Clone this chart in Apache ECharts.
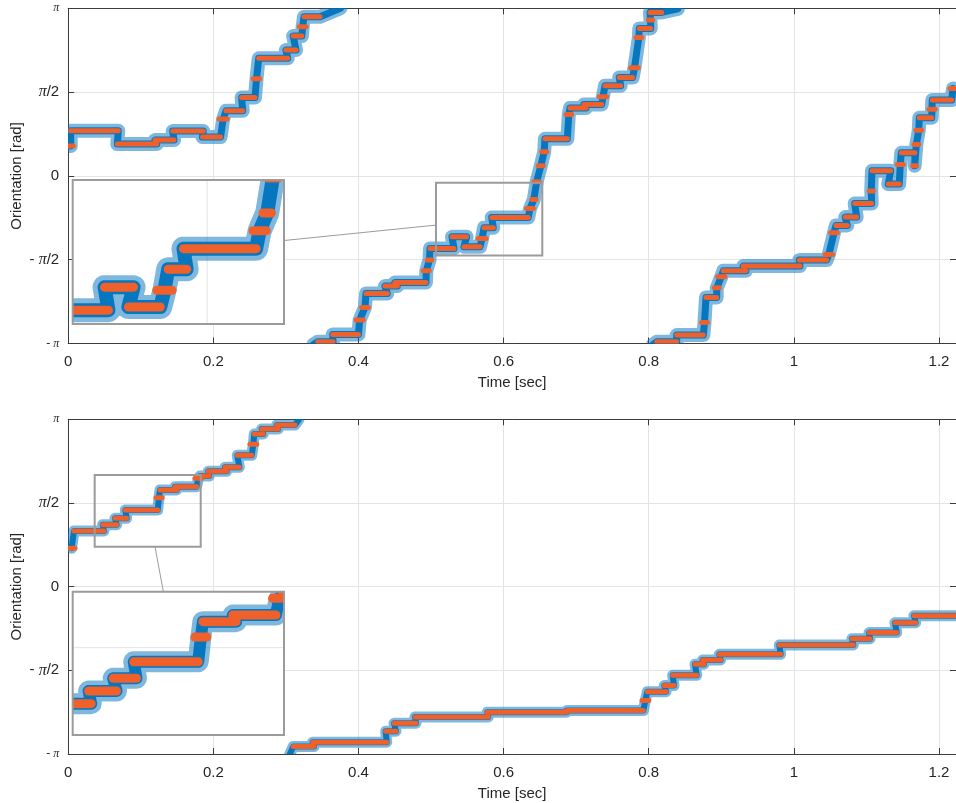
<!DOCTYPE html>
<html>
<head>
<meta charset="utf-8">
<script src="https://cdn.jsdelivr.net/npm/echarts/dist/echarts.min.js"></script>
<style>
  html, body { margin: 0; background: #fff; }
  #chart { width: 956px; height: 803px; }
</style>
</head>
<body>
<div id="chart"></div>
<script>
const PI = Math.PI;
const X_MAX = 1.2234;

const xTickLabels = ['0', '0.2', '0.4', '0.6', '0.8', '1', '1.2'];
// -π, -π/2, 0, π/2, π
const yTickLabels = ['{s|- π}', '{n|- }{p|π}{n|/2}', '{n|0}', '{p|π}{n|/2}', '{s|π}'];

// quantised orientation steps [tStart, tEnd, rad], upper plot, split where the angle wraps
const topStepsA = [
  [0, 0.007, 0.56], [0.0034, 0.069, 0.845], [0.0677, 0.122, 0.596], [0.1196, 0.1458, 0.671],
  [0.144, 0.186, 0.840], [0.185, 0.210, 0.727], [0.208, 0.219, 1.065], [0.2175, 0.2405, 1.220],
  [0.239, 0.2574, 1.471], [0.255, 0.264, 1.820], [0.2625, 0.3025, 2.203], [0.300, 0.314, 2.358],
  [0.310, 0.322, 2.621], [0.3185, 0.3277, 2.795], [0.325, 0.347, 2.982]
];
const topStepsB = [
  [0.344, 0.365, -3.11], [0.3645, 0.400, -2.971], [0.3966, 0.4066, -2.703], [0.4044, 0.4135, -2.465],
  [0.4104, 0.4397, -2.203], [0.4365, 0.4535, -2.066], [0.4503, 0.493, -1.996], [0.4893, 0.4976, -1.779],
  [0.4948, 0.5009, -1.578], [0.4986, 0.5316, -1.359], [0.5289, 0.549, -1.142], [0.5454, 0.5675, -1.329],
  [0.5651, 0.5757, -1.172], [0.573, 0.5858, -0.973], [0.5836, 0.634, -0.778], [0.6318, 0.641, -0.609],
  [0.6387, 0.6446, -0.441], [0.6419, 0.6492, -0.111], [0.6478, 0.6547, 0.189], [0.6525, 0.6594, 0.452],
  [0.657, 0.6878, 0.695], [0.686, 0.6938, 1.153], [0.6915, 0.7135, 1.271], [0.7108, 0.7352, 1.340],
  [0.7318, 0.742, 1.483], [0.7397, 0.7613, 1.689], [0.7594, 0.7779, 1.846], [0.7751, 0.7856, 2.026],
  [0.7824, 0.7903, 2.596], [0.787, 0.8027, 2.765], [0.7994, 0.8054, 2.920], [0.8017, 0.8178, 3.065]
];
const topStepsC = [
  [0.811, 0.8385, -3.110], [0.8385, 0.8752, -2.984], [0.873, 0.8807, -2.746], [0.8789, 0.8936, -2.278],
  [0.8903, 0.8972, -2.098], [0.895, 0.905, -1.891], [0.9027, 0.934, -1.779], [0.930, 1.0084, -1.691],
  [1.0074, 1.0452, -1.578], [1.0429, 1.0535, -1.471], [1.0507, 1.0598, -1.067], [1.058, 1.0736, -0.928],
  [1.0708, 1.0865, -0.772], [1.0838, 1.1072, -0.516], [1.1039, 1.1094, -0.285], [1.1076, 1.1334, 0.096],
  [1.130, 1.1452, -0.154], [1.1425, 1.1508, 0.216], [1.148, 1.1669, 0.433], [1.1637, 1.1692, 0.189],
  [1.1655, 1.172, 0.590], [1.1682, 1.1761, 0.858], [1.1728, 1.1899, 1.089], [1.1862, 1.1944, 1.247],
  [1.1907, 1.2175, 1.421], [1.2151, 1.2234, 1.640]
];
// where the raw measurement runs off the ±π edges
const topWrapEnds = [[0.375, 3.14], [0.338, -3.16], [0.840, 3.13], [0.806, -3.16]];

// lower plot
const botStepsA = [
  [0, 0.0094, 0.721], [0.008, 0.0493, 1.045], [0.0475, 0.0668, 1.164], [0.0645, 0.0806, 1.284],
  [0.0787, 0.1233, 1.439], [0.121, 0.1293, 1.670], [0.1265, 0.1495, 1.815], [0.1472, 0.177, 1.877],
  [0.1747, 0.184, 2.034], [0.1816, 0.1944, 2.077], [0.193, 0.2184, 2.166], [0.216, 0.2358, 2.241],
  [0.233, 0.2529, 2.466], [0.2505, 0.2598, 2.672], [0.2564, 0.2688, 2.866], [0.2666, 0.2895, 2.960],
  [0.2873, 0.3125, 3.035]
];
const botStepsB = [
  [0.310, 0.3387, -3.003], [0.3369, 0.4389, -2.920], [0.4375, 0.4517, -2.714], [0.449, 0.4793, -2.564],
  [0.4779, 0.5789, -2.445], [0.5775, 0.6869, -2.357], [0.6869, 0.7925, -2.327], [0.7907, 0.800, -2.139],
  [0.798, 0.8238, -1.971], [0.8214, 0.8348, -1.858], [0.833, 0.8661, -1.663], [0.8637, 0.8761, -1.456],
  [0.8743, 0.8991, -1.376], [0.8972, 0.9818, -1.269], [0.9799, 1.0819, -1.094], [1.080, 1.1049, -0.976],
  [1.1035, 1.1417, -0.863], [1.1393, 1.1678, -0.676], [1.1655, 1.2234, -0.544]
];
const botWrapEnds = [[0.318, 3.14], [0.305, -3.16]];

// zoom windows [tMin, tMax, radMin, radMax]
const topZoom = [0.5068, 0.6533, -1.490, -0.129];
const botZoom = [0.0365, 0.1826, 0.751, 2.096];
// connector ends: [inset point], [main point]
const topLink = [[0.6533, -0.701], [0.5068, -0.922]];
const botLink = [[0.0992, 2.096], [0.1196, 0.751]];

const BLUE = '#0072BD';
const ORANGE = '#F0602A';
const FRAME = '#9b9b9b';
const AX = '#3c3c3c';
const FONT = 'Liberation Sans, Arial, Helvetica, sans-serif';

// raw measurement path: follows the plateaus, short steps only touch it once
function trace(head, steps, tail) {
  var pts = [];
  if (head) pts.push(head);
  steps.forEach(function (s) {
    if (s[1] - s[0] < 0.012) pts.push([(s[0] + s[1]) / 2, s[2]]);
    else pts.push([s[0], s[2]], [s[1], s[2]]);
  });
  if (tail) pts.push(tail);
  return pts;
}

const topTraces = [
  trace(null, topStepsA, topWrapEnds[0]),
  trace(topWrapEnds[1], topStepsB, topWrapEnds[2]),
  trace(topWrapEnds[3], topStepsC, null)
];
const botTraces = [
  trace(null, botStepsA, botWrapEnds[0]),
  trace(botWrapEnds[1], botStepsB, null)
];
const topSteps = topStepsA.concat(topStepsB, topStepsC);
const botSteps = botStepsA.concat(botStepsB);

function xLabel(v) {
  var k = Math.round(v / 0.2);
  return Math.abs(v - k * 0.2) < 1e-6 ? xTickLabels[k] : '';
}
function yLabel(v) {
  var k = Math.round(v / (PI / 2));
  return yTickLabels[k + 2] || '';
}

function frameAxis(extra) {
  return Object.assign({
    type: 'value',
    axisLine: { show: true, onZero: false, lineStyle: { color: AX, width: 1 } },
    axisTick: { inside: true, length: 6, lineStyle: { color: AX } },
    axisLabel: { show: false }, splitLine: { show: false }
  }, extra);
}

function mainAxes(g) {
  var xs = [frameAxis({
    gridIndex: g, min: 0, max: X_MAX, interval: 0.2, position: 'bottom',
    axisLabel: { color: '#262626', fontSize: 15, fontFamily: FONT, margin: 11, formatter: xLabel },
    splitLine: { show: true, lineStyle: { color: '#e4e4e4' } },
    name: 'Time [sec]', nameLocation: 'middle', nameGap: 32,
    nameTextStyle: { color: '#262626', fontSize: 15, fontFamily: FONT }
  }), frameAxis({ gridIndex: g, min: 0, max: X_MAX, interval: 0.2, position: 'top' })];
  var ys = [frameAxis({
    gridIndex: g, min: -PI, max: PI, interval: PI / 2, position: 'left',
    axisLabel: {
      margin: 9, formatter: yLabel, color: '#262626',
      rich: {
        n: { fontSize: 15, fontFamily: FONT, color: '#262626' },
        p: { fontSize: 16, fontFamily: 'Liberation Serif, serif', fontStyle: 'italic', color: '#262626' },
        s: { fontSize: 12, fontFamily: 'Liberation Serif, serif', fontStyle: 'italic', color: '#262626' }
      }
    },
    splitLine: { show: true, lineStyle: { color: '#e4e4e4' } },
    name: 'Orientation [rad]', nameLocation: 'middle', nameGap: 44, nameMoveOverlap: false,
    nameTextStyle: { color: '#262626', fontSize: 15, fontFamily: FONT }
  }), frameAxis({ gridIndex: g, min: -PI, max: PI, interval: PI / 2, position: 'right' })];
  return { xs: xs, ys: ys };
}

function insetAxes(g, z) {
  return {
    x: { gridIndex: g, type: 'value', min: z[0], max: z[1], show: false, splitLine: { show: false } },
    y: { gridIndex: g, type: 'value', min: z[2], max: z[3], show: false, splitLine: { show: false } }
  };
}

function blueLayer(traces, xi, yi, width, opacity, z) {
  return {
    type: 'custom', xAxisIndex: xi, yAxisIndex: yi, clip: true, silent: true, z: z,
    data: traces.map(function (t) { return t[0]; }),
    encode: { x: 0, y: 1 },
    renderItem: function (params, api) {
      var pts = traces[params.dataIndex].map(function (p) { return api.coord(p); });
      return { type: 'polyline', shape: { points: pts },
        style: { stroke: BLUE, fill: 'none', lineWidth: width, opacity: opacity, lineCap: 'round', lineJoin: 'round' } };
    }
  };
}

function blueSeries(traces, xi, yi, core, halo, zBase) {
  return [blueLayer(traces, xi, yi, halo, 0.5, zBase), blueLayer(traces, xi, yi, core, 0.95, zBase + 1)];
}

function orangeSeries(steps, xi, yi, w, z) {
  return {
    type: 'custom', xAxisIndex: xi, yAxisIndex: yi, data: steps, clip: true, silent: true, z: z,
    encode: { x: [0, 1], y: 2 },
    renderItem: function (params, api) {
      var a = api.coord([api.value(0), api.value(2)]);
      var b = api.coord([api.value(1), api.value(2)]);
      return { type: 'line', shape: { x1: a[0], y1: a[1], x2: b[0], y2: b[1] },
        style: { stroke: ORANGE, lineWidth: w, lineCap: 'round' } };
    }
  };
}

function zoomBox(zone, xi, yi) {
  return {
    type: 'custom', xAxisIndex: xi, yAxisIndex: yi, data: [zone], silent: true, z: 6,
    encode: { x: [0, 1], y: [2, 3] },
    renderItem: function (params, api) {
      var a = api.coord([api.value(0), api.value(3)]);
      var b = api.coord([api.value(1), api.value(2)]);
      return { type: 'rect', shape: { x: a[0], y: a[1], width: b[0] - a[0], height: b[1] - a[1] },
        style: { fill: 'none', stroke: FRAME, lineWidth: 2 } };
    }
  };
}

// inset grid line (it keeps the parent's ticks: t = 0.6 above, π/2 below)
function insetGrid(val, xi, yi, vertical) {
  return {
    type: 'custom', xAxisIndex: xi, yAxisIndex: yi, data: [[val, val]], silent: true, z: 11,
    renderItem: function (params, api) {
      var cs = params.coordSys;
      if (vertical) {
        var x = api.coord([api.value(0), 0])[0];
        return { type: 'line', shape: { x1: x, y1: cs.y, x2: x, y2: cs.y + cs.height }, style: { stroke: '#e4e4e4', lineWidth: 1 } };
      }
      var y = api.coord([0, api.value(1)])[1];
      return { type: 'line', shape: { x1: cs.x, y1: y, x2: cs.x + cs.width, y2: y }, style: { stroke: '#e4e4e4', lineWidth: 1 } };
    }
  };
}

// frame drawn over the inset content
function insetFrame(zone, xi, yi) {
  var s = zoomBox(zone, xi, yi);
  s.z = 16;
  return s;
}

const m0 = mainAxes(0), m1 = mainAxes(1);
const i0 = insetAxes(2, topZoom), i1 = insetAxes(3, botZoom);

// axis indices: x 0,1 top plot; 2,3 bottom plot; 4 top inset; 5 bottom inset (same for y)
const series = [].concat(
  blueSeries(topTraces, 0, 0, 7, 14, 2),
  [orangeSeries(topSteps, 0, 0, 5, 4), zoomBox(topZoom, 0, 0)],
  blueSeries(botTraces, 2, 2, 6, 11, 2),
  [orangeSeries(botSteps, 2, 2, 5, 4), zoomBox(botZoom, 2, 2)],
  [insetGrid(0.6, 4, 4, true)],
  blueSeries(topTraces, 4, 4, 14, 24, 12),
  [orangeSeries(topSteps, 4, 4, 9, 14), insetFrame(topZoom, 4, 4)],
  [insetGrid(PI / 2, 5, 5, false)],
  blueSeries(botTraces, 5, 5, 12, 21, 12),
  [orangeSeries(botSteps, 5, 5, 9, 14), insetFrame(botZoom, 5, 5)]
);

const gridBase = { outerBoundsMode: 'none', containLabel: false };
const chart = echarts.init(document.getElementById('chart'), null, { renderer: 'canvas' });
chart.setOption({
  animation: false,
  backgroundColor: '#fff',
  grid: [
    Object.assign({ left: 68.2, top: 8.3, width: 887.8, height: 335.2 }, gridBase),
    Object.assign({ left: 68.2, top: 419.3, width: 887.8, height: 334.7 }, gridBase),
    Object.assign({ left: 72.7, top: 180, width: 211.3, height: 144, show: true, backgroundColor: '#fff', borderWidth: 0, z: 10 }, gridBase),
    Object.assign({ left: 72.7, top: 591.7, width: 211.3, height: 143.3, show: true, backgroundColor: '#fff', borderWidth: 0, z: 10 }, gridBase)
  ],
  xAxis: m0.xs.concat(m1.xs, [i0.x, i1.x]),
  yAxis: m0.ys.concat(m1.ys, [i0.y, i1.y]),
  series: series
});

function link(pair, insetIdx, mainIdx) {
  var a = chart.convertToPixel({ gridIndex: insetIdx }, pair[0]);
  var b = chart.convertToPixel({ gridIndex: mainIdx }, pair[1]);
  return { type: 'line', z: 20, silent: true, shape: { x1: a[0], y1: a[1], x2: b[0], y2: b[1] },
    style: { stroke: FRAME, lineWidth: 1 } };
}
chart.setOption({ graphic: [link(topLink, 2, 0), link(botLink, 3, 1)] });
</script>
</body>
</html>
